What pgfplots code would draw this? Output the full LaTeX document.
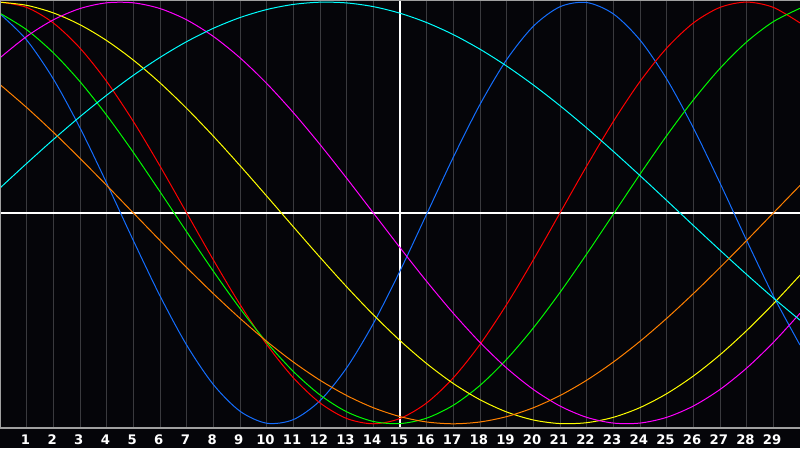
\documentclass[border=0pt]{standalone}
\usepackage{fontspec}
\setmainfont{DejaVu Sans}
\usepackage{pgfplots}
\usepackage{pgfplotstable}
\pgfplotsset{compat=1.18}
\usetikzlibrary{backgrounds}

\definecolor{bgc}{RGB}{5,5,9}
\definecolor{gridc}{RGB}{58,58,62}
\definecolor{framec}{RGB}{160,160,160}
\definecolor{cblue}{RGB}{20,110,255}
\definecolor{cred}{RGB}{255,0,0}
\definecolor{cgreen}{RGB}{0,250,0}
\definecolor{cyellow}{RGB}{255,255,0}
\definecolor{cmag}{RGB}{255,0,255}
\definecolor{ccyan}{RGB}{0,255,255}
\definecolor{corange}{RGB}{255,128,0}

% day, then the seven cycles (23, 28, 33, 43, 38, 53, 48 days)
\pgfplotstableread{
x   b       r       g       y       m       c       o
0   0.9441  1.0000  0.9469  0.9996  0.7357  0.1182  0.6088
1   0.8201  0.9749  0.8689  0.9847  0.8372  0.2348  0.5000
2   0.6354  0.9010  0.7594  0.9488  0.9158  0.3482  0.3827
3   0.4034  0.7818  0.6227  0.8927  0.9694  0.4567  0.2588
4   0.1416  0.6235  0.4633  0.8175  0.9966  0.5585  0.1305
5  -0.1307  0.4339  0.2872  0.7250  0.9966  0.6527  0.0000
6  -0.3934  0.2225  0.1007  0.6171  0.9694  0.7377 -0.1305
7  -0.6268  0.0000 -0.0894  0.4958  0.9158  0.8125 -0.2588
8  -0.8138 -0.2225 -0.2763  0.3641  0.8372  0.8757 -0.3827
9  -0.9404 -0.4339 -0.4532  0.2246  0.7357  0.9267 -0.5000
10 -0.9973 -0.6235 -0.6137  0.0802  0.6142  0.9646 -0.6088
11 -0.9802 -0.7818 -0.7518 -0.0657  0.4759  0.9890 -0.7071
12 -0.8904 -0.9010 -0.8631 -0.2103  0.3247  0.9996 -0.7934
13 -0.7345 -0.9749 -0.9431 -0.3504  0.1646  0.9961 -0.8660
14 -0.5244 -1.0000 -0.9890 -0.4829  0.0000  0.9785 -0.9239
15 -0.2752 -0.9749 -0.9991 -0.6053 -0.1646  0.9473 -0.9659
16 -0.0054 -0.9010 -0.9731 -0.7146 -0.3247  0.9028 -0.9914
17  0.2646 -0.7818 -0.9120 -0.8090 -0.4759  0.8457 -1.0000
18  0.5147 -0.6235 -0.8179 -0.8860 -0.6142  0.7765 -0.9914
19  0.7272 -0.4339 -0.6939 -0.9440 -0.7357  0.6966 -0.9659
20  0.8854 -0.2225 -0.5454 -0.9820 -0.8372  0.6069 -0.9239
21  0.9780  0.0000 -0.3770 -0.9990 -0.9158  0.5086 -0.8660
22  0.9980  0.2225 -0.1949 -0.9948 -0.9694  0.4031 -0.7934
23  0.9441  0.4339 -0.0058 -0.9693 -0.9966  0.2920 -0.7071
24  0.8201  0.6235  0.1836 -0.9232 -0.9966  0.1769 -0.6088
25  0.6354  0.7818  0.3664 -0.8573 -0.9694  0.0593 -0.5000
26  0.4034  0.9010  0.5358 -0.7734 -0.9158 -0.0593 -0.3827
27  0.1416  0.9749  0.6858 -0.6729 -0.8372 -0.1769 -0.2588
28 -0.1307  1.0000  0.8113 -0.5578 -0.7357 -0.2920 -0.1305
29 -0.3934  0.9749  0.9073 -0.4310 -0.6142 -0.4031  0.0000
30 -0.6268  0.9010  0.9705 -0.2951 -0.4759 -0.5086  0.1305
}\bio

\begin{document}
\begin{tikzpicture}
\begin{axis}[
  scale only axis,
  width=400pt, height=214pt,
  xmin=0, xmax=30,
  ymin=-1.02, ymax=1.01,
  axis line style={draw=none},
  axis background/.style={fill=bgc},
  xtick={1,...,29},
  ytick=\empty,
  major tick length=0pt,
  xmajorgrids=true,
  major grid style={gridc, line width=0.5pt},
  /pgf/number format/assume math mode=true,
  xticklabel style={font=\fontsize{6.6}{7}\selectfont\bfseries, text=white,
    anchor=north, inner sep=0pt, xshift=-0.6pt, yshift=-3.2pt},
  every axis plot/.append style={line width=0.5pt, smooth},
]
\addplot[white, line width=0.6pt, smooth=false] coordinates {(15,-1.02) (15,1.01)};
\addplot[white, line width=0.6pt, smooth=false] coordinates {(0,0) (30,0)};

\addplot[cblue]   table[x=x, y=b] {\bio};
\addplot[cred]    table[x=x, y=r] {\bio};
\addplot[cgreen]  table[x=x, y=g] {\bio};
\addplot[cyellow] table[x=x, y=y] {\bio};
\addplot[cmag]    table[x=x, y=m] {\bio};
\addplot[ccyan]   table[x=x, y=c] {\bio};
\addplot[corange] table[x=x, y=o] {\bio};

\draw[framec, line width=0.6pt] (rel axis cs:1,0) -- (rel axis cs:0,0)
  -- (rel axis cs:0,1) -- (rel axis cs:1,1);
\coordinate (ll) at (rel axis cs:0,0);
\coordinate (ur) at (rel axis cs:1,1);
\end{axis}
\begin{scope}[on background layer]
  \fill[bgc] ([yshift=-10pt]ll) rectangle (ur);
\end{scope}
\pgfresetboundingbox
\useasboundingbox ([yshift=-10pt]ll) rectangle (ur);
\end{tikzpicture}
\end{document}
